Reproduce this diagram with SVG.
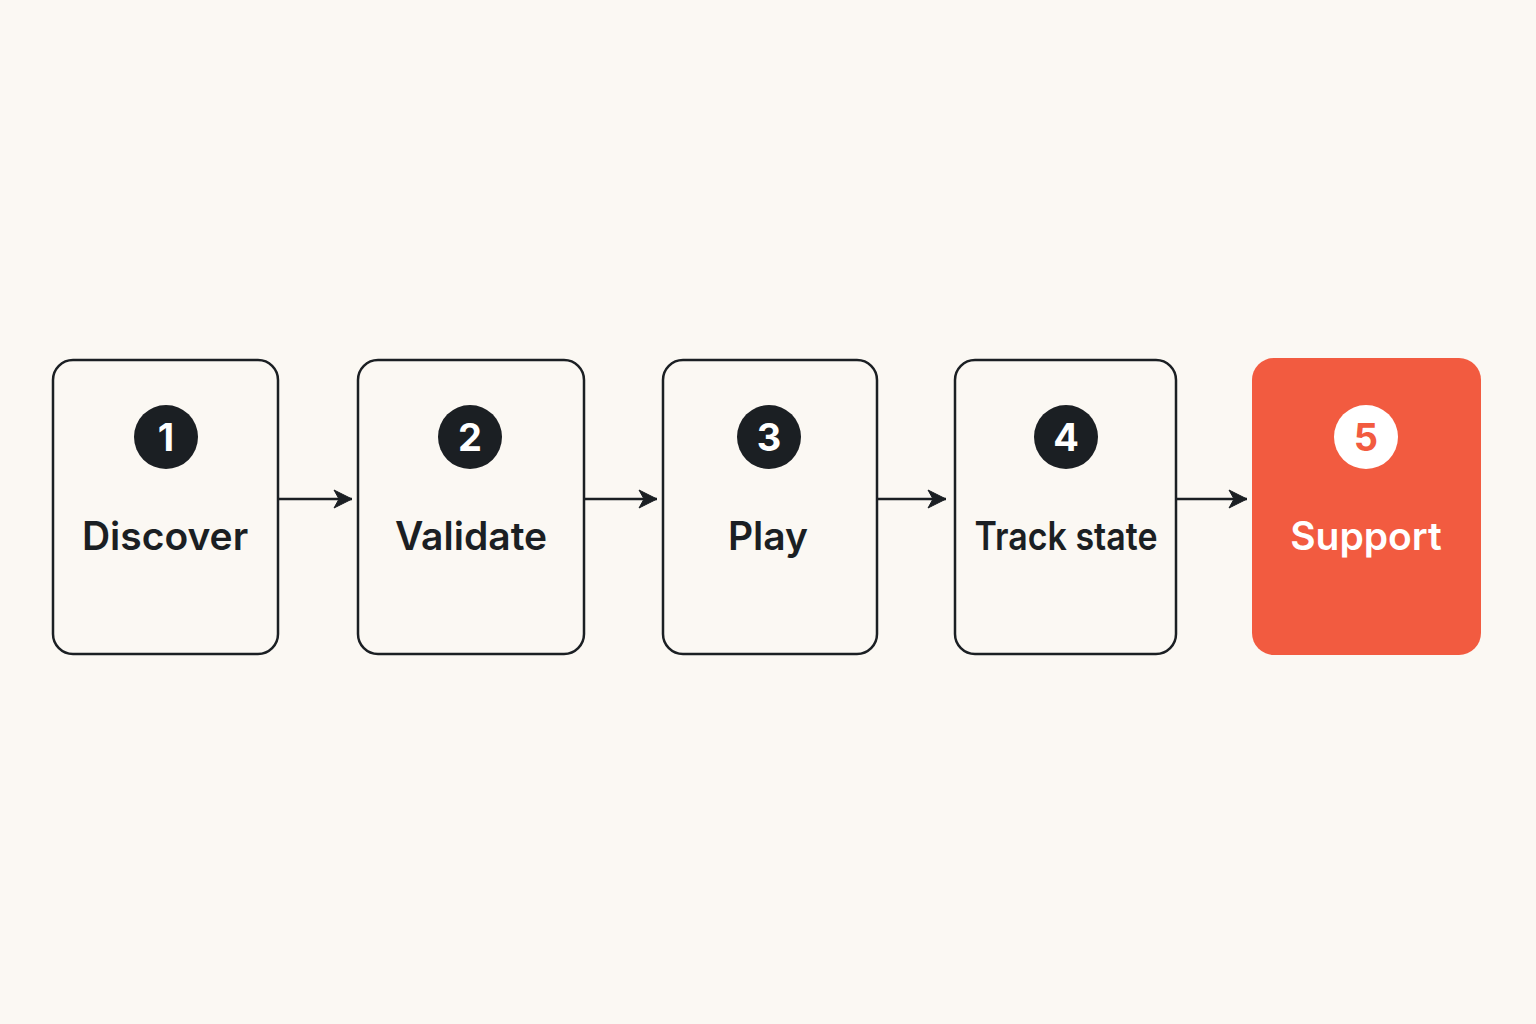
<svg xmlns="http://www.w3.org/2000/svg" width="1536" height="1024" viewBox="0 0 1536 1024">
<style>
.box{fill:#FBF8F3;stroke:#1B1F23;stroke-width:2.5}
.badge{fill:#1B1F23}
.num{font-family:Inter,"Liberation Sans",sans-serif;font-weight:700;font-size:38px;fill:#FFFFFF;text-anchor:middle}
.lbl{font-family:Inter,"Liberation Sans",sans-serif;font-weight:600;font-size:39px;fill:#1B1F23;text-anchor:middle}
.conn{stroke:#1B1F23;stroke-width:2.5;fill:none}
</style>
<defs>
<marker id="ah" markerWidth="24" markerHeight="24" refX="21" refY="12" orient="auto" markerUnits="userSpaceOnUse">
<path d="M3,3 L21,12 L3,21 L8,12 Z" fill="#1B1F23" stroke="#1B1F23" stroke-width="1" stroke-linejoin="round"/>
</marker>
</defs>
<rect width="1536" height="1024" fill="#FBF8F3"/>
<g id="connectors">
<line class="conn" x1="279" y1="499" x2="352" y2="499" marker-end="url(#ah)"/>
<line class="conn" x1="585" y1="499" x2="657" y2="499" marker-end="url(#ah)"/>
<line class="conn" x1="878" y1="499" x2="946" y2="499" marker-end="url(#ah)"/>
<line class="conn" x1="1177" y1="499" x2="1247" y2="499" marker-end="url(#ah)"/>
</g>
<g id="node1">
<rect class="box" x="53" y="360" width="225" height="294" rx="20"/>
<circle class="badge" cx="166" cy="437" r="32"/>
<text class="num" x="166" y="451">1</text>
<text class="lbl" x="165" y="550">Discover</text>
</g>
<g id="node2">
<rect class="box" x="358" y="360" width="226" height="294" rx="20"/>
<circle class="badge" cx="470" cy="437" r="32"/>
<text class="num" x="470" y="451">2</text>
<text class="lbl" x="471" y="550">Validate</text>
</g>
<g id="node3">
<rect class="box" x="663" y="360" width="214" height="294" rx="20"/>
<circle class="badge" cx="769" cy="437" r="32"/>
<text class="num" x="769" y="451">3</text>
<text class="lbl" x="768" y="550">Play</text>
</g>
<g id="node4">
<rect class="box" x="955" y="360" width="221" height="294" rx="20"/>
<circle class="badge" cx="1066" cy="437" r="32"/>
<text class="num" x="1066" y="451">4</text>
<text class="lbl" x="1066" y="550" textLength="183" lengthAdjust="spacingAndGlyphs">Track state</text>
</g>
<g id="node5">
<rect x="1252" y="358" width="229" height="297" rx="22" fill="#F25B40"/>
<circle cx="1366" cy="437" r="32" fill="#FFFFFF"/>
<text class="num" x="1366" y="451" style="fill:#F25B40">5</text>
<text class="lbl" x="1366" y="550" style="fill:#FFFFFF">Support</text>
</g>
</svg>
